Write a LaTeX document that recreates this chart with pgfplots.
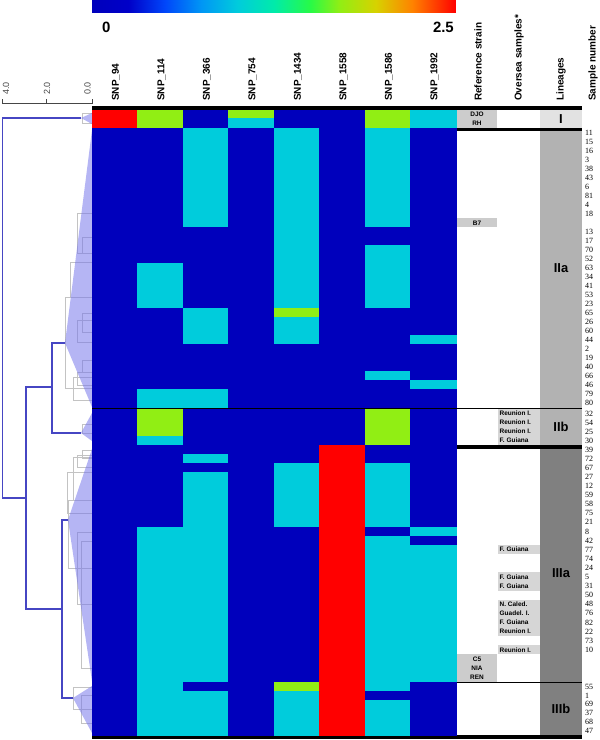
\documentclass[border=0pt]{standalone}
\usepackage{fontspec}
\setmainfont{Liberation Sans}
\newfontfamily\numfont{Liberation Serif}
\usepackage{pgfplots}
\usepackage{pgfplotstable}
\pgfplotsset{compat=1.18}

\definecolor{dendro}{RGB}{70,70,195}
\definecolor{tri}{RGB}{120,120,235}
\definecolor{subtree}{RGB}{195,195,195}
\definecolor{refbox}{RGB}{204,204,204}
\definecolor{osbox}{RGB}{214,214,214}
\definecolor{linI}{RGB}{226,226,226}
\definecolor{linII}{RGB}{178,178,178}
\definecolor{linIII}{RGB}{128,128,128}
\definecolor{ruler}{RGB}{70,70,70}

% one heatmap cell: 45.5 x 9.2 (1 unit = 1bp)
\pgfdeclareplotmark{cell}{%
  \pgfpathrectangle{\pgfqpoint{-22.75bp}{-4.6bp}}{\pgfqpoint{45.5bp}{9.2bp}}%
  \pgfusepathqfillstroke}

% y = row centre, values on the 0..2.5 colour scale, n = sample number
\pgfplotstableread{
y s94 s114 s366 s754 s1434 s1558 s1586 s1992 n
114.3 2.5 1.7 0 1.7 0 0 1.7 1 {}
123.0 2.5 1.7 0 1 0 0 1.7 1 {}
132.8 0 0 1 0 1 0 1 0 11
141.8 0 0 1 0 1 0 1 0 15
150.8 0 0 1 0 1 0 1 0 16
159.8 0 0 1 0 1 0 1 0 3
168.8 0 0 1 0 1 0 1 0 38
177.8 0 0 1 0 1 0 1 0 43
186.8 0 0 1 0 1 0 1 0 6
195.8 0 0 1 0 1 0 1 0 81
204.8 0 0 1 0 1 0 1 0 4
213.8 0 0 1 0 1 0 1 0 18
222.8 0 0 1 0 1 0 1 0 {}
231.8 0 0 0 0 1 0 0 0 13
240.8 0 0 0 0 1 0 0 0 17
249.8 0 0 0 0 1 0 1 0 70
258.8 0 0 0 0 1 0 1 0 52
267.8 0 1 0 0 1 0 1 0 63
276.8 0 1 0 0 1 0 1 0 34
285.8 0 1 0 0 1 0 1 0 41
294.8 0 1 0 0 1 0 1 0 53
303.8 0 1 0 0 1 0 1 0 23
312.8 0 0 1 0 1.7 0 0 0 65
321.8 0 0 1 0 1 0 0 0 26
330.8 0 0 1 0 1 0 0 0 60
339.8 0 0 1 0 1 0 0 1 44
348.8 0 0 0 0 0 0 0 0 2
357.8 0 0 0 0 0 0 0 0 19
366.8 0 0 0 0 0 0 0 0 40
375.8 0 0 0 0 0 0 1 0 66
384.8 0 0 0 0 0 0 0 1 46
393.8 0 1 1 0 0 0 0 0 79
402.8 0 1 1 0 0 0 0 0 80
413.5 0 1.7 0 0 0 0 1.7 0 32
422.5 0 1.7 0 0 0 0 1.7 0 54
431.5 0 1.7 0 0 0 0 1.7 0 25
440.5 0 1 0 0 0 0 1.7 0 30
449.55 0 0 0 0 0 2.5 0 0 39
458.65 0 0 1 0 0 2.5 0 0 72
467.75 0 0 0 0 1 2.5 1 0 67
476.85 0 0 1 0 1 2.5 1 0 27
485.95 0 0 1 0 1 2.5 1 0 12
495.05 0 0 1 0 1 2.5 1 0 59
504.15 0 0 1 0 1 2.5 1 0 58
513.25 0 0 1 0 1 2.5 1 0 75
522.35 0 0 1 0 1 2.5 1 0 21
531.45 0 1 1 0 0 2.5 0 1 8
540.55 0 1 1 0 0 2.5 1 0 42
549.65 0 1 1 0 0 2.5 1 1 77
558.75 0 1 1 0 0 2.5 1 1 74
567.85 0 1 1 0 0 2.5 1 1 24
576.95 0 1 1 0 0 2.5 1 1 5
586.05 0 1 1 0 0 2.5 1 1 31
595.15 0 1 1 0 0 2.5 1 1 50
604.25 0 1 1 0 0 2.5 1 1 48
613.35 0 1 1 0 0 2.5 1 1 76
622.45 0 1 1 0 0 2.5 1 1 82
631.55 0 1 1 0 0 2.5 1 1 22
640.65 0 1 1 0 0 2.5 1 1 73
649.75 0 1 1 0 0 2.5 1 1 10
658.85 0 1 1 0 0 2.5 1 1 {}
667.95 0 1 1 0 0 2.5 1 1 {}
677.05 0 1 1 0 0 2.5 1 1 {}
686.7 0 1 0 0 1.7 2.5 1 0 55
695.5 0 1 1 0 1 2.5 0 0 1
704.3 0 1 1 0 1 2.5 1 0 69
713.1 0 1 1 0 1 2.5 1 0 37
721.9 0 1 1 0 1 2.5 1 0 68
730.7 0 1 1 0 1 2.5 1 0 47
}\snp

\pgfplotsset{
  cellplot/.style={scatter, only marks, mark=cell, point meta=explicit,
    scatter/use mapped color={draw=mapped color, fill=mapped color},
    mark options={line width=0.3bp}},
  sub/.style={subtree, line width=0.8bp},
  box/.style={draw=none},
}

\begin{document}
\begin{tikzpicture}
\useasboundingbox (0,0) rectangle (600bp,740bp);
\begin{axis}[
  at={(0,0)}, anchor=south west,
  scale only axis, width=600bp, height=740bp,
  xmin=0, xmax=600, ymin=0, ymax=740, y dir=reverse,
  hide axis, clip=false,
  colormap={snpjet}{rgb255(0cm)=(0,0,188) rgb255(0.25cm)=(0,0,200)
    rgb255(0.5cm)=(0,70,250) rgb255(0.75cm)=(0,150,245) rgb255(1cm)=(0,204,220)
    rgb255(1.25cm)=(0,235,170) rgb255(1.5cm)=(40,250,70) rgb255(1.7cm)=(145,238,20)
    rgb255(1.95cm)=(215,210,0) rgb255(2.2cm)=(255,130,0) rgb255(2.5cm)=(255,0,0)},
  point meta min=0, point meta max=2.5,
]
% colour scale
\addplot[patch, shader=interp, point meta=explicit] coordinates {
  (92,0) [0] (456,0) [2.5] (456,12) [2.5]
  (92,0) [0] (456,12) [2.5] (92,12) [0]};

% heatmap, one column per SNP
\addplot[cellplot] table[x expr=114.75, y=y, meta=s94] {\snp};
\addplot[cellplot] table[x expr=160.25, y=y, meta=s114] {\snp};
\addplot[cellplot] table[x expr=205.75, y=y, meta=s366] {\snp};
\addplot[cellplot] table[x expr=251.25, y=y, meta=s754] {\snp};
\addplot[cellplot] table[x expr=296.75, y=y, meta=s1434] {\snp};
\addplot[cellplot] table[x expr=342.25, y=y, meta=s1558] {\snp};
\addplot[cellplot] table[x expr=387.75, y=y, meta=s1586] {\snp};
\addplot[cellplot] table[x expr=433.25, y=y, meta=s1992] {\snp};

% lineage column
\addplot[box, fill=linI] coordinates {(540,110) (582,110) (582,127.5) (540,127.5)};
\addplot[box, fill=linII] coordinates {(540,130) (582,130) (582,445) (540,445)};
\addplot[box, fill=linIII] coordinates {(540,449) (582,449) (582,735) (540,735)};
% reference strain boxes
\addplot[box, fill=refbox] coordinates {(456,110) (497,110) (497,127.5) (456,127.5)};
\addplot[box, fill=refbox] coordinates {(456,218.3) (497,218.3) (497,227.3) (456,227.3)};
\addplot[box, fill=refbox] coordinates {(456,654.3) (497,654.3) (497,681.6) (456,681.6)};
% oversea sample boxes
\addplot[box, fill=osbox] coordinates {(498,409) (540,409) (540,445) (498,445)};
\addplot[box, fill=osbox] coordinates {(498,545.1) (540,545.1) (540,554.2) (498,554.2)};
\addplot[box, fill=osbox] coordinates {(498,572.4) (540,572.4) (540,590.6) (498,590.6)};
\addplot[box, fill=osbox] coordinates {(498,599.7) (540,599.7) (540,636.1) (498,636.1)};
\addplot[box, fill=osbox] coordinates {(498,645.2) (540,645.2) (540,654.3) (498,654.3)};

% collapsed subtrees (grey)
\addplot[sub] coordinates {(92,113) (82,113) (82,123) (92,123)};
\addplot[sub] coordinates {(92,213) (77,213) (77,253) (92,253)};
\addplot[sub] coordinates {(92,237) (82,237) (82,253) (92,253)};
\addplot[sub] coordinates {(92,262) (70,262) (70,297) (92,297)};
\addplot[sub] coordinates {(92,297) (65,297) (65,388) (92,388)};
\addplot[sub] coordinates {(92,320) (77,320) (77,342) (92,342)};
\addplot[sub] coordinates {(92,313) (82,313) (82,332) (92,332)};
\addplot[sub] coordinates {(92,360) (82,360) (82,372) (92,372)};
\addplot[sub] coordinates {(92,372) (77,372) (77,385) (92,385)};
\addplot[sub] coordinates {(92,377) (73,377) (73,400) (92,400)};
\addplot[sub] coordinates {(92,424) (82,424) (82,433) (92,433)};
\addplot[sub] coordinates {(92,450) (82,450) (82,458) (92,458)};
\addplot[sub] coordinates {(92,455) (77,455) (77,467) (92,467)};
\addplot[sub] coordinates {(92,457) (73,457) (73,500) (92,500)};
\addplot[sub] coordinates {(92,472) (67,472) (67,513) (92,513)};
\addplot[sub] coordinates {(92,500) (68,500) (68,568) (92,568)};
\addplot[sub] coordinates {(92,532) (77,532) (77,604) (92,604)};
\addplot[sub] coordinates {(92,541) (81,541) (81,668) (92,668)};
\addplot[sub] coordinates {(92,687) (73,687) (73,709) (92,709)};
\addplot[sub] coordinates {(92,695) (81,695) (81,723) (92,723)};

% lineage triangles
\addplot[box, fill=tri, fill opacity=0.55] coordinates {(92,113) (81,118) (92,124)};
\addplot[box, fill=tri, fill opacity=0.55] coordinates {(92,130) (65,343) (92,407)};
\addplot[box, fill=tri, fill opacity=0.55] coordinates {(92,413) (81,433) (92,441)};
\addplot[box, fill=tri, fill opacity=0.55] coordinates {(92,449) (68,520) (92,681)};
\addplot[box, fill=tri, fill opacity=0.55] coordinates {(92,686) (73,698) (92,733)};

% dendrogram backbone
\addplot[dendro, line width=1.1bp] coordinates {(81,118) (2.5,118) (2.5,498) (26,498)};
\addplot[dendro, line width=1.1bp] coordinates {(52,387) (26,387) (26,609) (62,609)};
\addplot[dendro, line width=1.1bp] coordinates {(65,343) (52,343) (52,433) (81,433)};
\addplot[dendro, line width=1.1bp] coordinates {(68,520) (62,520) (62,698) (73,698)};

% distance ruler
\addplot[ruler, line width=0.8bp] coordinates {(2.3,99) (2.3,103) (92,103) (92,99)};
\addplot[ruler, line width=0.8bp] coordinates {(46.7,99) (46.7,103)};

% separators
\addplot[black, line width=3.5bp] coordinates {(92,108) (582,108)};
\addplot[black, line width=3.5bp] coordinates {(92,129.3) (582,129.3)};
\addplot[black, line width=1.2bp] coordinates {(92,408.3) (582,408.3)};
\addplot[black, line width=4bp] coordinates {(92,447) (582,447)};
\addplot[black, line width=1.2bp] coordinates {(92,682.3) (582,682.3)};
\addplot[black, line width=4bp] coordinates {(92,737) (582,737)};

% sample numbers
\addplot[draw=none, point meta=explicit symbolic, nodes near coords,
  nodes near coords style={anchor=west, inner sep=0pt,
    font=\numfont\fontsize{8}{8}\selectfont}]
  table[x expr=585, y=y, meta=n] {\snp};
\end{axis}

\begin{scope}[x=1bp, y=-1bp, yshift=740bp]
% colour scale labels
\node[anchor=west, inner sep=0, font=\fontsize{15}{15}\selectfont\bfseries] at (102,27) {0};
\node[anchor=east, inner sep=0, font=\fontsize{15}{15}\selectfont\bfseries] at (454,27) {2.5};
% column headers
\foreach \xx/\t in {116/SNP\_94, 161.5/SNP\_114, 207/SNP\_366, 252.5/SNP\_754,
    298/SNP\_1434, 343.5/SNP\_1558, 389/SNP\_1586, 434.5/SNP\_1992,
    478/Reference strain, 519/Oversea samples*, 561/Lineages, 593/Sample number}
  \node[rotate=90, anchor=west, inner sep=0, font=\fontsize{10}{10}\selectfont\bfseries] at (\xx,101) {\t};
% ruler labels
\foreach \xx/\t in {6/4.0, 47/2.0, 87.5/0.0}
  \node[rotate=90, anchor=west, inner sep=0, text=ruler, font=\fontsize{9}{9}\selectfont] at (\xx,95) {\t};
% reference strains
\begin{scope}[every node/.style={inner sep=0, font=\fontsize{6.5}{6.5}\selectfont\bfseries}]
\node at (477,114.3) {DJO};
\node at (477,123) {RH};
\node at (477,222.8) {B7};
\node at (477,658.85) {C5};
\node at (477,667.95) {NIA};
\node at (477,677.05) {REN};
\end{scope}
% oversea samples
\begin{scope}[every node/.style={anchor=west, inner sep=0, font=\fontsize{6.5}{6.5}\selectfont\bfseries}]
\node at (499.5,413.5) {Reunion I.};
\node at (499.5,422.5) {Reunion I.};
\node at (499.5,431.5) {Reunion I.};
\node at (499.5,440.5) {F. Guiana};
\node at (499.5,549.65) {F. Guiana};
\node at (499.5,576.95) {F. Guiana};
\node at (499.5,586.05) {F. Guiana};
\node at (499.5,604.25) {N. Caled.};
\node at (499.5,613.35) {Guadel. I.};
\node at (499.5,622.45) {F. Guiana};
\node at (499.5,631.55) {Reunion I.};
\node at (499.5,649.75) {Reunion I.};
\end{scope}
% lineages
\begin{scope}[every node/.style={inner sep=0, font=\fontsize{13}{13}\selectfont\bfseries}]
\node at (561,118.6) {I};
\node at (561,268) {IIa};
\node at (561,427) {IIb};
\node at (561,573) {IIIa};
\node at (561,709) {IIIb};
\end{scope}
\end{scope}
\end{tikzpicture}
\end{document}
